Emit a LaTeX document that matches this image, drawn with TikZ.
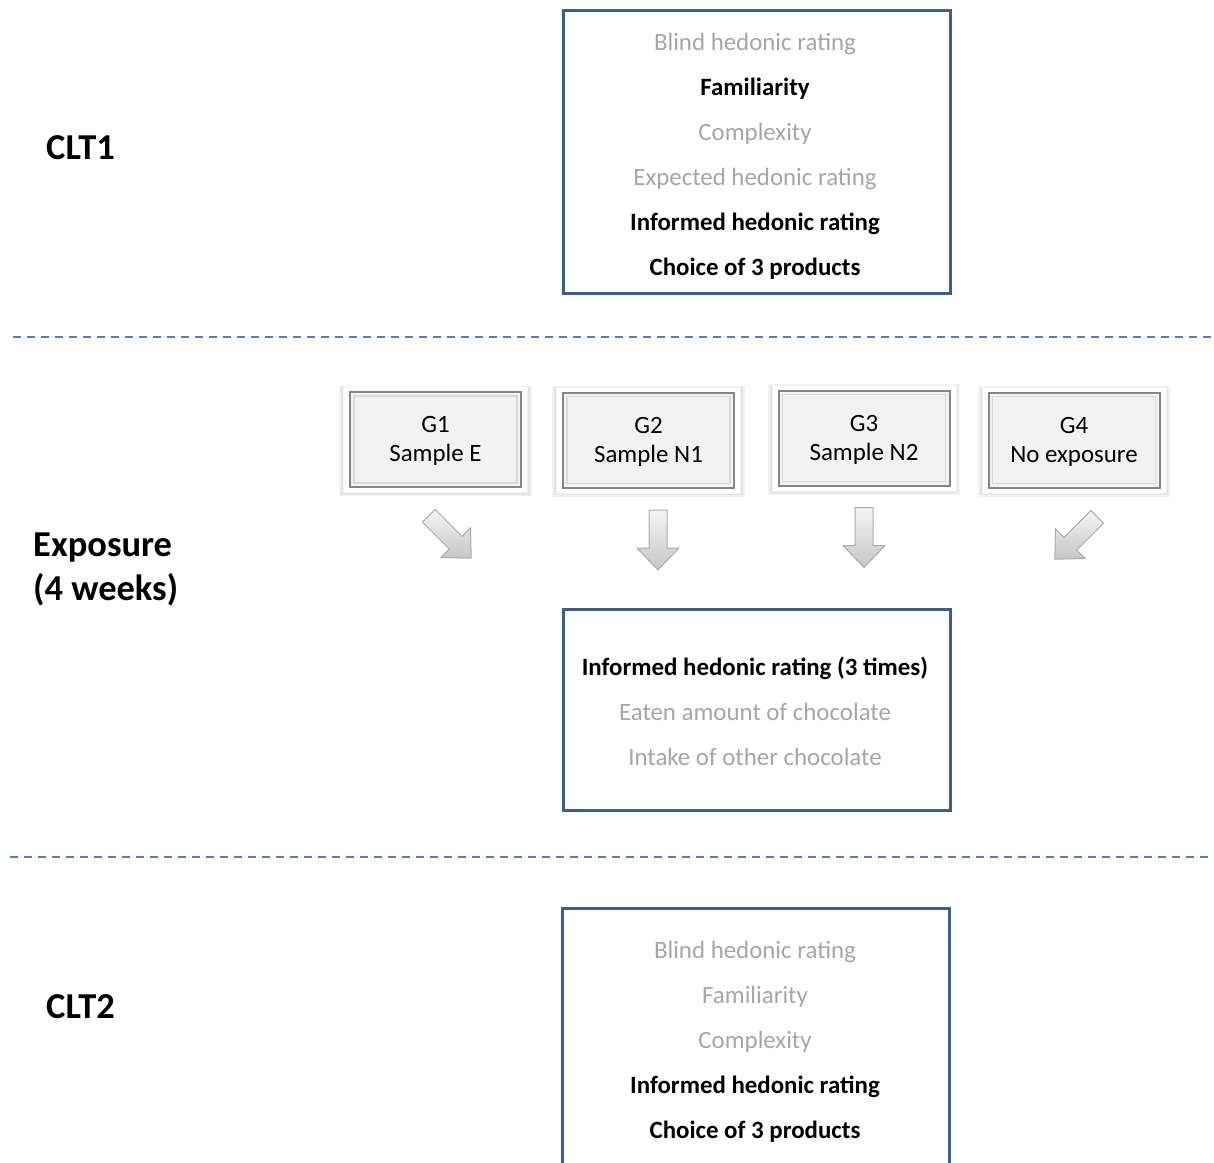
\documentclass[tikz,border=0pt]{standalone}
\usepackage{fontspec}
\setmainfont{Carlito}
\usetikzlibrary{shadows}
\definecolor{boxblue}{HTML}{3B5E8C}
\definecolor{dashblue}{HTML}{4F81BD}
\definecolor{txtgray}{HTML}{A6A6A6}
\definecolor{gfill}{HTML}{F2F2F2}
\definecolor{gedge}{HTML}{858585}
\begin{document}
\begin{tikzpicture}[x=1pt,y=-1pt,
  bigbox/.style={draw=boxblue, line width=3pt, fill=white, minimum width=387pt, anchor=north west, inner sep=0pt},
  item/.style={font=\fontsize{24.9}{29}\selectfont, text=txtgray, anchor=base, inner sep=0pt},
  itembold/.style={item, text=black, font=\fontsize{24.9}{29}\selectfont\bfseries},
  gtext/.style={font=\fontsize{24.9}{29}\selectfont, text=black, anchor=base, inner sep=0pt},
  phase/.style={font=\fontsize{36.5}{44}\selectfont\bfseries, anchor=west, align=left, inner sep=0pt},
  gouter/.style={fill=white, draw=gray!10, line width=0.6pt, minimum width=184pt, minimum height=106pt, inner sep=0pt,
     general shadow={fill=gray, opacity=0.10, shadow scale=1.045, shadow yshift=-1.5pt},
     general shadow={fill=gray, opacity=0.12, shadow scale=1.022, shadow yshift=-1pt}},
  ginner/.style={fill=gfill, draw=gedge, line width=2pt, minimum width=171pt, minimum height=95pt, inner sep=0pt},
  gbevel/.style={draw=gray!30, line width=1.2pt, minimum width=163pt, minimum height=87pt, inner sep=0pt},
  dashline/.style={draw=dashblue, line width=2pt, dash pattern=on 8pt off 6pt},
  arrowstyle/.style={draw=gray!65, line width=1pt, top color=gray!8, bottom color=gray!45},
  blockarrow/.pic={\path[arrowstyle] (-9,-30) -- (9,-30) -- (9,8) -- (21,8) -- (0,30) -- (-21,8) -- (-9,8) -- cycle;}
]
\useasboundingbox (0,0) rectangle (1214,1162);
\clip (0,0) rectangle (1214,1162);

% ---------- CLT1 ----------
\node[phase] (clt1) at (46,148) {CLT1};
\node[bigbox, minimum height=283pt] (box1) at (562,9) {};
\node[item]     (b1a) at (755,50)  {Blind hedonic rating};
\node[itembold] (b1b) at (755,95)  {Familiarity};
\node[item]     (b1c) at (755,140) {Complexity};
\node[item]     (b1d) at (755,185) {Expected hedonic rating};
\node[itembold] (b1e) at (755,230) {Informed hedonic rating};
\node[itembold] (b1f) at (755,275) {Choice of 3 products};

\coordinate (d1l) at (13,337);
\coordinate (d1r) at (1214,337);
\draw[dashline] (d1l) -- (d1r);

% ---------- Exposure ----------
\node[phase] (expo) at (33,569) {Exposure\\(4 weeks)};

\foreach \n/\cx/\cy/\la/\lb in {1/435.5/439.5/G1/Sample E, 2/648.5/440/G2/Sample N1, 3/864/438/G3/Sample N2, 4/1074/440/G4/No exposure}{
  \node[gouter] (go\n) at (\cx,\cy) {};
  \node[ginner] (gi\n) at (\cx,\cy) {};
  \node[gbevel] (gb\n) at (\cx,\cy) {};
  \node[gtext] (gl\n) at (\cx,\cy-7) {\la};
  \node[gtext] (gs\n) at (\cx,\cy+22) {\lb};
}

\pic[rotate=45]  (ar1) at (450,537) {blockarrow};
\pic             (ar2) at (658,540) {blockarrow};
\pic             (ar3) at (864,537.5) {blockarrow};
\pic[rotate=-45] (ar4) at (1076,538) {blockarrow};

\node[bigbox, minimum height=201pt] (box2) at (562,608) {};
\node[itembold] (m1) at (755,675) {Informed hedonic rating (3 times)};
\node[item]     (m2) at (755,720) {Eaten amount of chocolate};
\node[item]     (m3) at (755,765) {Intake of other chocolate};

\coordinate (d2l) at (10,857);
\coordinate (d2r) at (1210,857);
\draw[dashline] (d2l) -- (d2r);

% ---------- CLT2 ----------
\node[phase] (clt2) at (46,1007) {CLT2};
\coordinate (box3bl) at (562,1175);
\coordinate (box3tl) at (562,908);
\coordinate (box3tr) at (949,908);
\coordinate (box3br) at (949,1175);
\draw[draw=boxblue, line width=3pt, line join=miter] (box3bl) -- (box3tl) -- (box3tr) -- (box3br);
\node[item]     (c2a) at (755,958)  {Blind hedonic rating};
\node[item]     (c2b) at (755,1003) {Familiarity};
\node[item]     (c2c) at (755,1048) {Complexity};
\node[itembold] (c2d) at (755,1093) {Informed hedonic rating};
\node[itembold] (c2e) at (755,1138) {Choice of 3 products};
\end{tikzpicture}
\end{document}
